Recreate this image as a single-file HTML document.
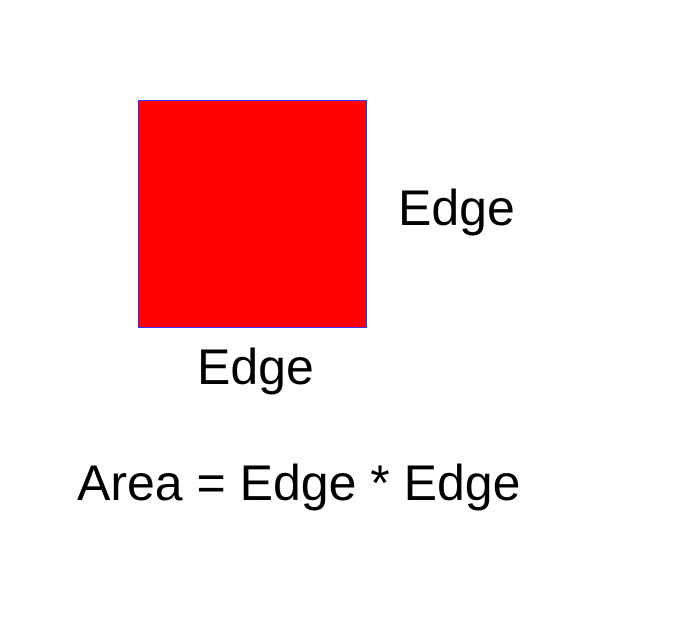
<!DOCTYPE html>
<html>
<head>
<meta charset="utf-8">
<style>
html,body{margin:0;padding:0;background:#fff;}
svg{display:block;}
text{font-family:"Liberation Sans",Arial,sans-serif;fill:#000;}
</style>
</head>
<body>
<svg width="700" height="640" viewBox="0 0 700 640">
  <rect x="138.5" y="100.5" width="228" height="227" fill="#ff0000" stroke="#3333ff" stroke-width="1"/>
  <text x="398" y="225" font-size="50">Edge</text>
  <text x="197" y="384" font-size="50">Edge</text>
  <text x="77" y="500" font-size="50">Area = Edge * Edge</text>
</svg>
</body>
</html>
